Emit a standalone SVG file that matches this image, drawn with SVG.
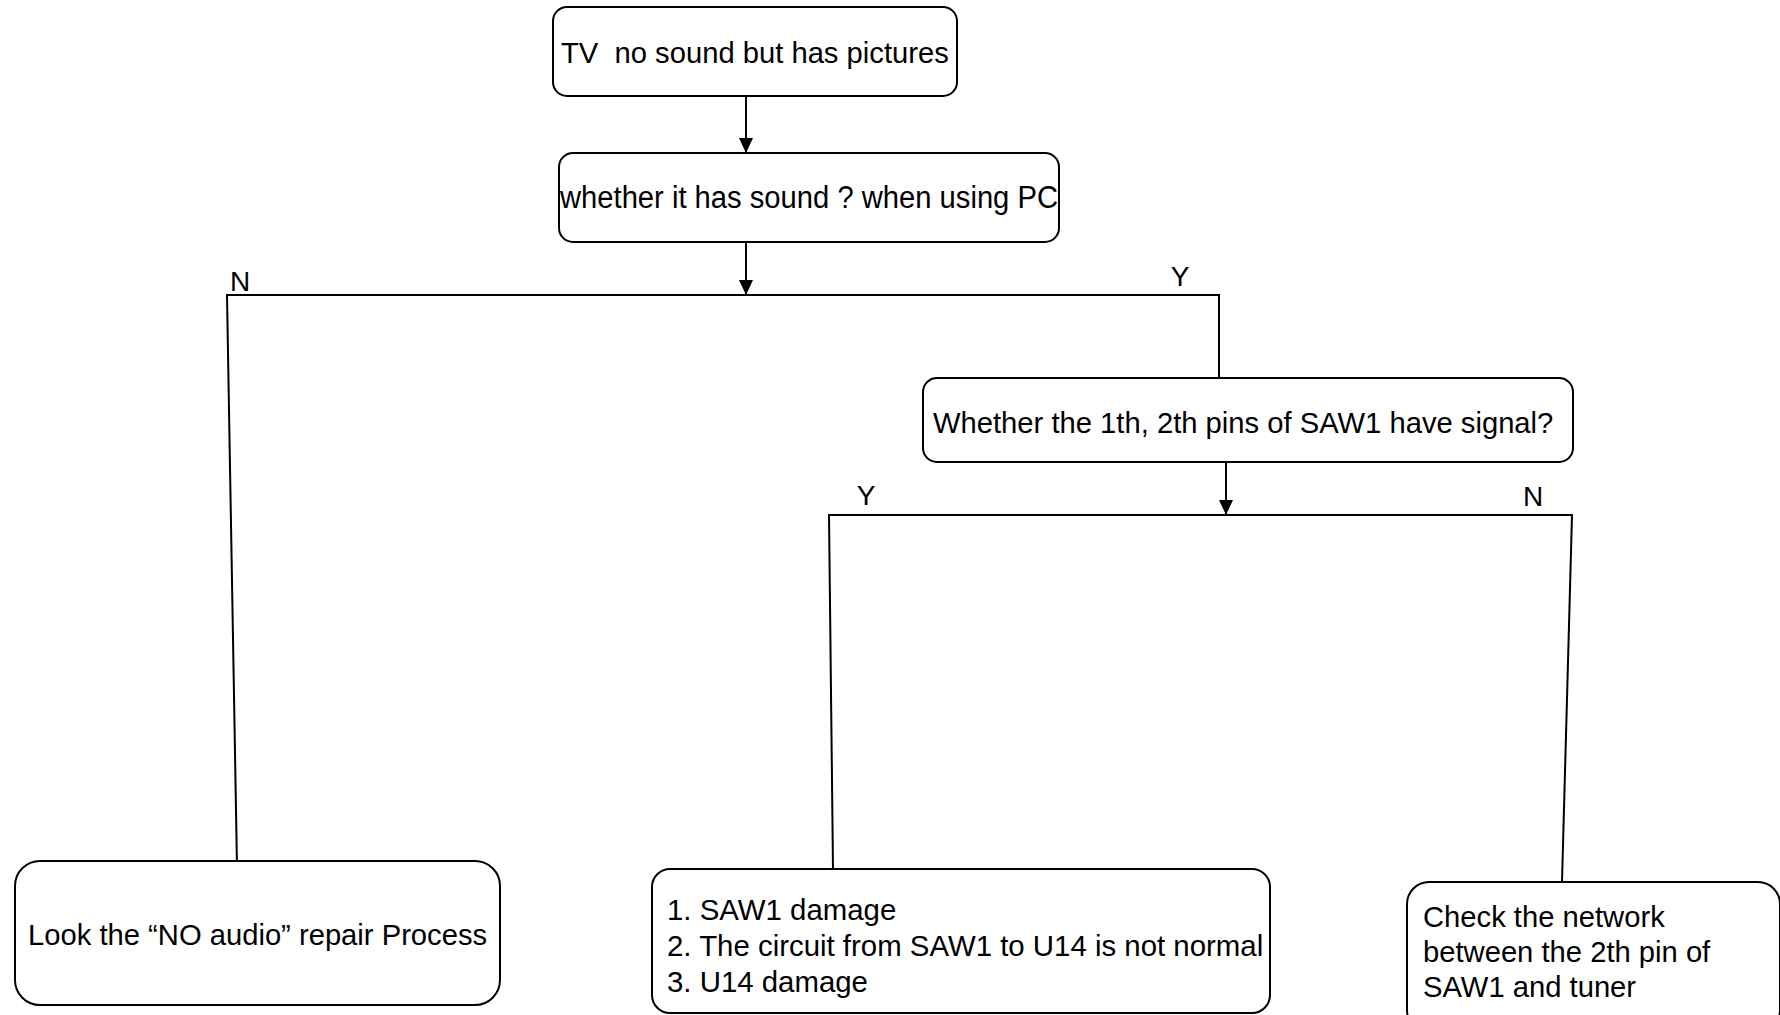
<svg xmlns="http://www.w3.org/2000/svg" width="1780" height="1015" viewBox="0 0 1780 1015">
<style>
.box{fill:#fff;stroke:#000;stroke-width:2}
.t{font-family:"Liberation Sans",Arial,sans-serif;font-size:29.2px;fill:#000;white-space:pre}
.lb{font-family:"Liberation Sans",Arial,sans-serif;font-size:28px;fill:#000}
.ln{fill:none;stroke:#000;stroke-width:2}
</style>
<defs>
<marker id="ah" viewBox="0 0 15 16" refX="15" refY="8" markerWidth="15" markerHeight="16" markerUnits="userSpaceOnUse" orient="auto">
<path d="M0,1 L15,8 L0,15 Z" fill="#000"/>
</marker>
</defs>
<rect width="1780" height="1015" fill="#fff"/>
<g id="connectors">
<line class="ln" x1="746" y1="96" x2="746" y2="153" marker-end="url(#ah)"/>
<line class="ln" x1="746" y1="242" x2="746" y2="295" marker-end="url(#ah)"/>
<polyline class="ln" points="237,867 227,295 1219,295 1219,378"/>
<line class="ln" x1="1226" y1="462" x2="1226" y2="515" marker-end="url(#ah)"/>
<polyline class="ln" points="833,869 829,515 1572,515 1562,882"/>
<text class="lb" x="230" y="291">N</text>
<text class="lb" x="1180" y="286" text-anchor="middle">Y</text>
<text class="lb" x="866" y="505" text-anchor="middle">Y</text>
<text class="lb" x="1523" y="506">N</text>
</g>
<g id="node-start">
<rect class="box" x="553" y="7" width="404" height="89" rx="14"/>
<text class="t" x="561" y="63">TV  no sound but has pictures</text>
</g>
<g id="node-pc">
<rect class="box" x="559" y="153" width="500" height="89" rx="14"/>
<text class="t" x="560" y="208" textLength="498" lengthAdjust="spacingAndGlyphs" style="font-size:31px">whether it has sound ? when using PC</text>
</g>
<g id="node-saw">
<rect class="box" x="923" y="378" width="650" height="84" rx="14"/>
<text class="t" x="933" y="433">Whether the 1th, 2th pins of SAW1 have signal?</text>
</g>
<g id="node-noaudio">
<rect class="box" x="15" y="861" width="485" height="144" rx="25"/>
<text class="t" x="28" y="945">Look the “NO audio” repair Process</text>
</g>
<g id="node-damage">
<rect class="box" x="652" y="869" width="618" height="144" rx="18"/>
<text class="t" x="667" y="920" style="font-size:29.4px">1. SAW1 damage</text>
<text class="t" x="667" y="956" style="font-size:29.4px">2. The circuit from SAW1 to U14 is not normal</text>
<text class="t" x="667" y="992" style="font-size:29.4px">3. U14 damage</text>
</g>
<g id="node-network">
<rect class="box" x="1407" y="882" width="373" height="150" rx="22"/>
<text class="t" x="1423" y="927">Check the network</text>
<text class="t" x="1423" y="962">between the 2th pin of</text>
<text class="t" x="1423" y="997">SAW1 and tuner</text>
</g>
</svg>
